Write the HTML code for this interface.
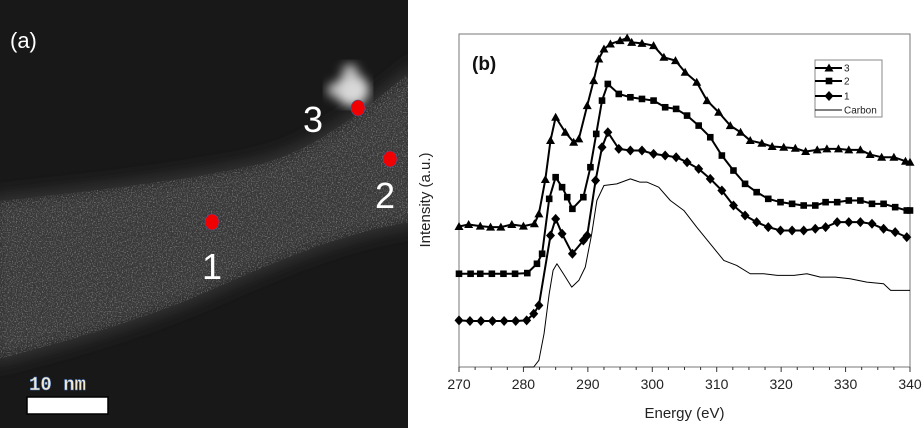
<!DOCTYPE html>
<html><head><meta charset="utf-8">
<style>
html,body{margin:0;padding:0;background:#fff;width:924px;height:428px;overflow:hidden;font-family:"Liberation Sans",Arial,sans-serif}
svg{position:absolute;left:0;top:0}
</style></head>
<body>
<svg width="924" height="428" viewBox="0 0 924 428">
<defs>
<filter id="noise" x="0" y="0" width="100%" height="100%">
<feTurbulence type="fractalNoise" baseFrequency="0.8" numOctaves="2" seed="3" result="t"/>
<feColorMatrix in="t" type="matrix" values="0 0 0 0 1  0 0 0 0 1  0 0 0 0 1  2.2 0 0 0 -1.05" result="n"/>
<feComposite in="n" in2="SourceGraphic" operator="in"/>
</filter>
<filter id="blur"><feGaussianBlur stdDeviation="9"/></filter>
<filter id="blur2"><feGaussianBlur stdDeviation="5"/></filter>
<clipPath id="leftclip"><rect x="0" y="0" width="408" height="428"/></clipPath>
</defs>
<g clip-path="url(#leftclip)">
<rect x="0" y="0" width="408" height="428" fill="#181818"/>
<path d="M-10,198 C80,188 180,178 260,160 C320,145 370,100 420,60 L420,225 C360,232 300,255 220,290 C150,322 70,345 -10,365 Z" fill="#383838" filter="url(#blur)"/>
<path d="M-10,202 C80,192 180,182 260,164 C320,149 370,104 420,64 L420,221 C360,228 300,251 220,286 C150,318 70,341 -10,361 Z" fill="#fff" opacity="0.45" filter="url(#noise)"/>
<g filter="url(#blur2)">
<ellipse cx="352" cy="90" rx="17" ry="16" fill="#d8d8d8"/>
<ellipse cx="350" cy="72" rx="8" ry="8" fill="#bbb"/>
<ellipse cx="334" cy="90" rx="7" ry="7" fill="#bbb"/>
</g>
<ellipse cx="358" cy="108" rx="7" ry="8" fill="#f00000" stroke="#3060a0" stroke-width="0.6"/>
<ellipse cx="390" cy="159" rx="7" ry="8" fill="#f00000" stroke="#3060a0" stroke-width="0.6"/>
<ellipse cx="212" cy="222" rx="7" ry="8" fill="#f00000" stroke="#3060a0" stroke-width="0.6"/>
<text x="313" y="132" font-size="36" fill="#fff" text-anchor="middle">3</text>
<text x="385" y="208" font-size="36" fill="#fff" text-anchor="middle">2</text>
<text x="212" y="279" font-size="36" fill="#fff" text-anchor="middle">1</text>
<text x="10" y="48" font-size="22" fill="#fff">(a)</text>
<text x="29" y="390" font-size="19" font-weight="bold" font-family="Liberation Mono, monospace" fill="#f0e8d0" stroke="#4070c0" stroke-width="0.5">10 nm</text>
<rect x="27" y="397" width="81" height="17" fill="#fff" stroke="#000" stroke-width="1.5"/>
</g>
<g id="chart"></g>
</svg>
<script>
const xTicks=[270,280,290,300,310,320,330,340];
const s3x=[270,271.5,273.3,274.9,276.5,278.2,280,281.7,282.4,283.4,284.2,285,286.5,287.8,288.6,289.9,290.9,291.7,292.5,293.5,295,296.1,296.8,298.4,300.2,301.8,303.6,305.1,306.9,308.5,310.3,312.1,313.7,315.2,317,318.6,320.4,322.2,323.8,325.6,327.1,328.9,330.5,332.3,333.8,335.6,337.5,339.3,340];
const s3y=[42.2,42.8,42.3,42,42,42.8,42.3,43,46,56.3,68,75,70.5,67.5,68.5,78.5,86,92.5,95.5,97,98,98.8,97.5,97.2,96.5,93,92,88.5,85.5,80,76.5,72.5,70.5,68,67.2,66.2,66,65.7,64.7,65.2,65.5,65.5,65.2,65.2,63.8,63,63,61.8,61.5];
const s2x=[270,271.8,273.3,275.1,276.9,278.7,280.6,282.1,282.9,284,285,286,286.8,287.6,289.3,290.4,291.3,292.2,293.1,294.8,296.6,298.4,300.2,302,303.7,305.4,307.2,309,310.8,312.6,314.4,316.2,318,319.9,321.7,323.5,325.3,326.9,328.7,330.5,332.3,334.1,335.9,337.7,339.5,340];
const s2y=[28,28,28,28,28,28,28.2,31,34,50.5,57,54,51,47.5,51,60,70,80,85,82,81,80.5,80,78,77.5,75.5,72.5,69,63.5,59,55,52.5,50.5,49.5,49,48.5,48.5,49.5,49.5,50,50,49,49,48,47,47];
const s1x=[270,271.7,273.4,275.2,277,278.8,280.5,281.6,282.4,284.2,285,286,287.6,289.3,289.9,291.2,292.2,293.1,294.8,296.6,298.4,300.2,302,303.7,305.4,307.2,309,310.8,312.6,314.4,316.2,318,319.9,321.7,323.5,325.3,326.9,328.7,330.5,332.3,334.1,335.9,337.7,339.5];
const s1y=[14,13.8,13.8,13.8,13.8,13.8,14,16,18.5,39.5,44.5,40,34,38,39.5,56,66,70.5,65.5,65,65,64,63.5,63,61.5,59.5,56.5,53,48.5,45.5,43.5,42,41,41,41,41.5,42,43.5,43.5,43.5,43,41.5,40.5,39];
const cx=[280,281.6,282.4,283.2,284,284.6,285.2,286.2,287.5,288.6,289.6,290.6,291.4,292.5,294.5,296.6,298.1,299.2,301,302.8,304.9,306.9,309,311.1,313.1,315.2,317.3,319.4,322,324,326.1,328.4,330.7,333.3,335.9,337,340];
const cy=[0,0,2,10,22,29,31,28,24,26,30,40,50,54.5,55,56.5,55.5,55.5,54,50,47,42,37,32,30.5,28,28,27.5,27.5,28,27,27,26.5,25.5,25,23,23];

const NS='http://www.w3.org/2000/svg';
const g=document.getElementById('chart');
const L=459,R=910,T=34,B=367;
const X=v=>L+(v-270)/(340-270)*(R-L);
const Y=v=>B-v/100*(B-T);
function mk(tag,attrs,parent){const e=document.createElementNS(NS,tag);for(const k in attrs)e.setAttribute(k,attrs[k]);(parent||g).appendChild(e);return e;}

const frame=mk('rect',{x:L,y:T,width:R-L,height:B-T,fill:'none',stroke:'#777','stroke-width':1});


for(let v=270;v<=340;v+=2.5){
  const major=v%10===0;
  const t=mk('line',{x1:X(v),x2:X(v),y1:B,y2:B+(major?5:3),stroke:'#333','stroke-width':1});
  
  
}
xTicks.forEach(v=>{
  const t=mk('text',{x:X(v),y:389,'font-size':14,'text-anchor':'middle',fill:'#222'});
  t.textContent=v;
  
  
});
const xt=mk('text',{x:(L+R)/2,y:418,'font-size':15,'text-anchor':'middle',fill:'#222'});
xt.textContent='Energy (eV)';


const yt=mk('text',{x:0,y:0,'font-size':15,'text-anchor':'middle',fill:'#222',transform:'translate(430,200) rotate(-90)'});
yt.textContent='Intensity (a.u.)';


const pb=mk('text',{x:472,y:70,'font-size':19,'font-weight':'bold',fill:'#111'});
pb.textContent='(b)';



function marker(type,x,y,name,parent){
  let e;
  if(type==='tri') e=mk('path',{d:`M${x},${y-4.5}L${x+4.5},${y+3.5}L${x-4.5},${y+3.5}Z`,fill:'#000'},parent);
  else if(type==='sq') e=mk('rect',{x:x-3.3,y:y-3.3,width:6.6,height:6.6,fill:'#000'},parent);
  else e=mk('path',{d:`M${x},${y-5}L${x+4.5},${y}L${x},${y+5}L${x-4.5},${y}Z`,fill:'#000'},parent);
  
  
}
function series(xs,ys,type,name,w){
  const sg=mk('g',{});
  
  
  const p=mk('polyline',{points:xs.map((v,i)=>X(v)+','+Y(ys[i])).join(' '),fill:'none',stroke:'#000','stroke-width':w,'stroke-linejoin':'round'},sg);
  
  
  if(type) xs.forEach((v,i)=>marker(type,X(v),Y(ys[i]),name+'-point',sg));
}
series(cx,cy,null,'series-carbon',1);
series(s1x,s1y,'dia','series-1',2);
series(s2x,s2y,'sq','series-2',2);
series(s3x,s3y,'tri','series-3',2);

const lg=mk('g',{});


const lb=mk('rect',{x:815,y:60,width:67,height:57,fill:'#fff',stroke:'#888','stroke-width':1},lg);


[['3','tri',68,2],['2','sq',81,2],['1','dia',96,2],['Carbon',null,110,1]].forEach(([lab,tp,yy,w])=>{
  const eg=mk('g',{},lg);
  
  
  mk('line',{x1:815,x2:842,y1:yy,y2:yy,stroke:'#000','stroke-width':w},eg);
  if(tp) marker(tp,829,yy,'legend-marker',eg);
  const t=mk('text',{x:844,y:yy+3.5,'font-size':10,fill:'#222'},eg);
  t.textContent=lab;
});
</script>
</body></html>
